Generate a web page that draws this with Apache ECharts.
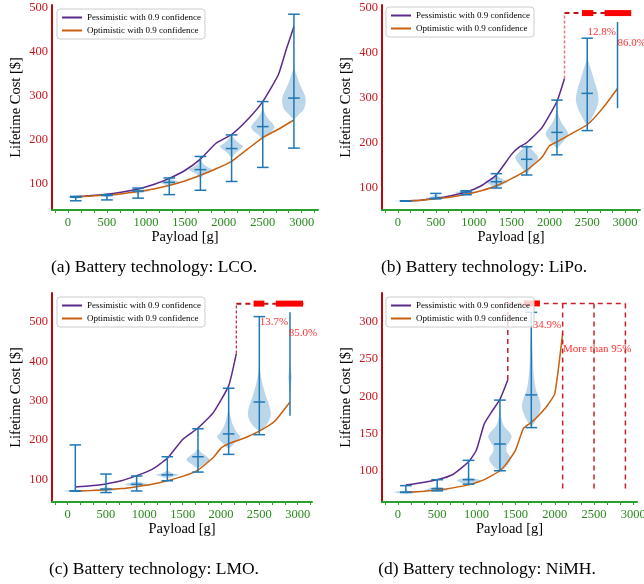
<!DOCTYPE html>
<html>
<head>
<meta charset="utf-8">
<script src="https://cdn.jsdelivr.net/npm/echarts@6/dist/echarts.min.js"></script>
<style>
  html, body { margin: 0; padding: 0; background: #fff; }
  #chart { width: 644px; height: 584px; }
</style>
</head>
<body>
<div id="chart"></div>
<script>
// payload positions of the violins [g]
const positions = [100, 500, 900, 1300, 1700, 2100, 2500, 2900];
const xTickLabels = [0, 500, 1000, 1500, 2000, 2500, 3000];
const yTicks = [100, 200, 300, 400, 500];
const yTicksNiMH = [100, 150, 200, 250, 300];
const pessName = 'Pessimistic with 0.9 confidence';
const optName = 'Optimistic with 0.9 confidence';
const captions = [
  '(a) Battery technology: LCO.',
  '(b) Battery technology: LiPo.',
  '(c) Battery technology: LMO.',
  '(d) Battery technology: NiMH.'
];

// (a) LCO
const lcoMin = [61, 63, 67, 75, 85, 105, 137, 181];
const lcoMed = [69, 73, 83, 103, 132, 180, 230, 295];
const lcoMax = [71, 75, 90, 113, 162, 211, 287, 486];
// violin outlines: [cost, relative half width]
const lcoShapes = [
  [[66, 0], [69, 0.6], [70, 1], [71, 0.5], [73, 0]],
  [[70, 0], [73, 0.6], [74, 1], [76, 0.4], [79, 0]],
  [[77, 0], [81, 0.6], [83, 1], [86, 0.5], [90, 0]],
  [[95, 0], [100, 0.6], [103, 1], [107, 0.5], [112, 0]],
  [[112, 0], [122, 0.35], [128, 0.8], [132, 1], [137, 0.7], [145, 0.25], [155, 0]],
  [[160, 0], [170, 0.35], [179, 0.8], [185, 1], [191, 0.7], [200, 0.3], [210, 0]],
  [[203, 0], [212, 0.4], [220, 0.8], [229, 1], [238, 0.8], [250, 0.4], [262, 0.15], [275, 0]],
  [[248, 0], [258, 0.45], [270, 0.85], [285, 1], [300, 0.95], [315, 0.7], [330, 0.45], [345, 0.25], [360, 0.05], [368, 0]]
];
const lcoPessX = [100, 300, 500, 700, 900, 1100, 1300, 1500, 1700, 1900, 2100, 2300, 2500, 2700, 2800, 2900];
const lcoPessY = [70, 73, 76, 81, 88, 98, 112, 130, 156, 192, 212, 245, 287, 348, 405, 458];
const lcoOptX = [100, 300, 500, 700, 900, 1100, 1300, 1500, 1700, 1900, 2100, 2300, 2500, 2700, 2900];
const lcoOptY = [70, 72, 74, 77, 82, 88, 96, 106, 119, 134, 151, 178, 205, 224, 245];

// (b) LiPo
const lipoMin = [70, 75, 84, 99, 128, 173, 227, 277];
const lipoMed = [70, 76, 90, 113, 163, 223, 310, null];
const lipoMax = [70, 87, 93, 131, 191, 295, 433, 469];
const lipoShapes = [
  [[69, 0], [70, 1], [71, 0]],
  [[74, 0], [76, 1], [79, 0.5], [84, 0]],
  [[84, 0], [88, 0.8], [90, 1], [92, 0.5], [94, 0]],
  [[100, 0], [107, 0.6], [113, 1], [118, 0.6], [126, 0]],
  [[130, 0], [140, 0.3], [150, 0.6], [160, 0.9], [168, 1], [178, 0.7], [188, 0.3], [196, 0]],
  [[188, 0], [198, 0.4], [210, 0.8], [220, 1], [230, 0.8], [245, 0.4], [260, 0.15], [275, 0]],
  [[240, 0], [255, 0.4], [275, 0.8], [295, 1], [315, 0.9], [340, 0.6], [365, 0.3], [385, 0]],
  []
];
const lipoPessX = [100, 300, 500, 700, 900, 1100, 1300, 1500, 1600, 1700, 1900, 2100, 2200];
const lipoPessY = [70, 72, 76, 82, 90, 104, 128, 174, 190, 200, 233, 292, 343];
const lipoOptX = [100, 300, 500, 700, 900, 1100, 1300, 1500, 1700, 1900, 2000, 2100, 2300, 2500, 2700, 2900];
const lipoOptY = [70, 72, 75, 79, 85, 93, 104, 120, 139, 167, 193, 202, 221, 240, 276, 321];
const lipoDrop = [[2200, 343, 2200, 489]];
const lipoTop = [[2200, 489, 3080, 489]];
const lipoBars = [[2430, 2580, 489], [2730, 3080, 489]];
const lipoNotes = [['12.8%', 2505, 447], ['86.0%', 2900, 423]];

// (c) LMO
const lmoMin = [71, 67, 71, 97, 119, 164, 214, 262];
const lmoMed = [71, 76, 88, 112, 158, 216, 297, null];
const lmoMax = [188, 114, 109, 158, 229, 332, 514, 525];
const lmoShapes = [
  [[68, 0], [71, 1], [74, 0]],
  [[70, 0], [74, 1], [78, 0.4], [82, 0]],
  [[83, 0], [87, 1], [91, 0.6], [95, 0]],
  [[104, 0], [109, 0.7], [112, 1], [116, 0.5], [122, 0]],
  [[130, 0], [140, 0.6], [150, 1], [158, 0.8], [168, 0.3], [178, 0]],
  [[180, 0], [195, 0.6], [208, 1], [220, 0.7], [240, 0.35], [260, 0.15], [278, 0]],
  [[225, 0], [235, 0.5], [250, 0.85], [265, 1], [285, 0.9], [310, 0.6], [340, 0.3], [370, 0.1], [390, 0]],
  [[320, 0], [340, 0.08], [360, 0.14], [380, 0.07], [400, 0]]
];
const lmoPessX = [100, 300, 500, 700, 900, 1100, 1300, 1500, 1700, 1900, 2100, 2200];
const lmoPessY = [81, 84, 89, 97, 110, 126, 154, 202, 231, 270, 338, 420];
const lmoOptX = [100, 300, 500, 700, 900, 1100, 1300, 1500, 1700, 1900, 2000, 2100, 2300, 2500, 2700, 2900];
const lmoOptY = [71, 72, 74, 77, 82, 88, 97, 108, 124, 156, 180, 191, 205, 223, 248, 297];
const lmoDrop = [[2200, 420, 2200, 547]];
const lmoTop = [[2200, 547, 3075, 547]];
const lmoBars = [[2425, 2565, 547], [2715, 3070, 547]];
const lmoNotes = [['13.7%', 2505, 500], ['85.0%', 2885, 473]];

// (d) NiMH
const nimhMin = [71, 73, 82, 100, 158];
const nimhMed = [71, 76, 88, 136, 202];
const nimhMax = [80, 88, 114, 195, 313];
const nimhShapes = [
  [[69, 0], [71, 1], [73, 0]],
  [[72, 0], [74, 1], [77, 0.5], [79, 0]],
  [[82, 0], [85, 0.8], [87, 1], [89, 0.7], [91, 0]],
  [[100, 0], [105, 0.5], [112, 0.85], [118, 0.9], [125, 0.6], [132, 0.55], [140, 0.85], [146, 1], [152, 0.8], [160, 0.35], [170, 0.12], [182, 0]],
  [[160, 0], [170, 0.45], [180, 0.72], [188, 0.8], [198, 0.65], [210, 0.38], [230, 0.2], [255, 0.12], [280, 0.06], [300, 0]]
];
const nimhPessX = [100, 300, 500, 700, 900, 1000, 1100, 1200, 1300, 1400];
const nimhPessY = [81, 84, 88, 95, 112, 128, 163, 180, 196, 222];
const nimhOptX = [100, 300, 500, 700, 900, 1100, 1300, 1400, 1500, 1600, 1700, 1800, 1900, 2000, 2100];
const nimhOptY = [71, 72, 74, 77, 81, 88, 100, 112, 128, 157, 165, 175, 187, 204, 285];
const nimhDrop = [[1400, 222, 1400, 325], [1400, 325, 2900, 325],
  [2100, 325, 2100, 72], [2500, 325, 2500, 72], [2900, 325, 2900, 72]];
const nimhBars = [[1605, 1810, 325]];
const nimhNotes = [['34.9%', 1720, 296], ['More than 95%', 2105, 264]];

const SERIF = '"Liberation Serif", "DejaVu Serif", serif';
const BLUE = '#1f77b4';
const PURPLE = '#5b2a8c';
const ORANGE = '#c8600f';
const RED_AXIS = '#b80a0a';
const RED_TXT = '#c8161e';
const GREEN_AXIS = '#2ca02c';
const GREEN_TXT = '#2a8a1e';
const NOTE_RED = '#ff3333';
const HALF = 150;   // violin half width in payload units
const CAP = 75;     // cap half length

const xMinor = [];
for (let v = -500 / 3; v < 3300; v += 500 / 3) xMinor.push(Math.round(v));

const grids = [
  { left: 52, top: 5, width: 266, height: 205 },
  { left: 382, top: 5, width: 258, height: 205 },
  { left: 52, top: 293, width: 260, height: 209 },
  { left: 382, top: 293, width: 255, height: 209 }
];
const xRanges = [[-205, 3209], [-211, 3197], [-204, 3187], [-204, 3048]];
const yRanges = [[40, 507], [50, 507], [43, 574], [58, 339]];
const legendPos = [[57, 9], [386, 7], [57, 297], [386, 297]];
const captionPos = [[154, 267], [484, 267], [154, 569], [487, 569]];

function violins(k, mins, meds, maxs, shapes) {
  const data = mins.map((m, i) => [positions[i], m, meds[i] == null ? '-' : meds[i], maxs[i]]);
  return [{
    type: 'custom', xAxisIndex: k, yAxisIndex: k, z: 1, silent: true,
    data: data,
    renderItem(params, api) {
      const x = api.value(0);
      const shape = shapes[params.dataIndex] || [];
      if (!shape.length) return null;
      const right = shape.map(s => api.coord([x + s[1] * HALF, s[0]]));
      const left = shape.slice(1, -1).reverse().map(s => api.coord([x - s[1] * HALF, s[0]]));
      return {
        type: 'polygon',
        shape: { points: right.concat(left), smooth: 0.3 },
        style: { fill: 'rgba(31,119,180,0.3)' }
      };
    }
  }, {
    type: 'custom', xAxisIndex: k, yAxisIndex: k, z: 4, silent: true,
    data: data,
    renderItem(params, api) {
      const x = api.value(0);
      const lo = api.coord([x, api.value(1)]);
      const hi = api.coord([x, api.value(3)]);
      const st = { stroke: BLUE, lineWidth: 1.5 };
      const kids = [{ type: 'line', shape: { x1: lo[0], y1: lo[1], x2: hi[0], y2: hi[1] }, style: st }];
      const med = api.value(2);
      if (!isNaN(med)) {
        [api.value(1), med, api.value(3)].forEach(v => {
          const a = api.coord([x - CAP, v]);
          const b = api.coord([x + CAP, v]);
          kids.push({ type: 'line', shape: { x1: a[0], y1: a[1], x2: b[0], y2: b[1] }, style: st });
        });
      }
      return { type: 'group', children: kids };
    }
  }];
}

function curves(k, px, py, ox, oy) {
  return [
    { name: pessName, type: 'line', xAxisIndex: k, yAxisIndex: k, z: 3, symbol: 'none', smooth: 0.15,
      lineStyle: { color: PURPLE, width: 1.5 }, itemStyle: { color: PURPLE },
      data: px.map((x, i) => [x, py[i]]) },
    { name: optName, type: 'line', xAxisIndex: k, yAxisIndex: k, z: 3, symbol: 'none', smooth: 0.15,
      lineStyle: { color: ORANGE, width: 1.5 }, itemStyle: { color: ORANGE },
      data: ox.map((x, i) => [x, oy[i]]) }
  ];
}

function segments(k, segs, color, width, dash) {
  return {
    type: 'custom', xAxisIndex: k, yAxisIndex: k, z: 5, silent: true,
    data: segs,
    renderItem(params, api) {
      const a = api.coord([api.value(0), api.value(1)]);
      const b = api.coord([api.value(2), api.value(3)]);
      return { type: 'line', shape: { x1: a[0], y1: a[1], x2: b[0], y2: b[1] },
        style: { stroke: color, lineWidth: width, lineDash: dash } };
    }
  };
}

function bars(k, list) {
  return {
    type: 'custom', xAxisIndex: k, yAxisIndex: k, z: 6, silent: true,
    data: list,
    renderItem(params, api) {
      const a = api.coord([api.value(0), api.value(2)]);
      const b = api.coord([api.value(1), api.value(2)]);
      return { type: 'rect', shape: { x: a[0], y: a[1] - 3, width: b[0] - a[0], height: 6 },
        style: { fill: '#ff0000' } };
    }
  };
}

function notes(k, list) {
  return {
    type: 'custom', xAxisIndex: k, yAxisIndex: k, z: 6, silent: true,
    data: list.map(n => [n[1], n[2]]),
    renderItem(params, api) {
      const p = api.coord([api.value(0), api.value(1)]);
      return { type: 'text', x: p[0], y: p[1],
        style: { text: list[params.dataIndex][0], fill: NOTE_RED, font: '11px ' + SERIF,
          textAlign: 'left', textVerticalAlign: 'middle' } };
    }
  };
}

const xAxes = grids.map((g, k) => ({
  type: 'value', gridIndex: k, min: xRanges[k][0], max: xRanges[k][1],
  name: 'Payload [g]', nameLocation: 'middle', nameGap: 20,
  nameTextStyle: { fontFamily: SERIF, fontSize: 14.5, color: '#000' },
  axisLine: { show: true, onZero: false, lineStyle: { color: GREEN_AXIS, width: 2 } },
  axisTick: { show: true, customValues: xMinor.filter(v => v >= xRanges[k][0] && v <= xRanges[k][1]),
    length: 3, lineStyle: { color: GREEN_AXIS, width: 1 } },
  axisLabel: { customValues: xTickLabels, formatter: v => String(v), color: GREEN_TXT,
    fontFamily: SERIF, fontSize: 12.5, margin: 6 },
  splitLine: { show: false }
}));

const yAxes = grids.map((g, k) => ({
  type: 'value', gridIndex: k, min: yRanges[k][0], max: yRanges[k][1],
  name: 'Lifetime Cost [$]', nameLocation: 'middle', nameGap: 28,
  nameTextStyle: { fontFamily: SERIF, fontSize: 14.5, color: '#000' },
  axisLine: { show: true, onZero: false, lineStyle: { color: RED_AXIS, width: 2 } },
  axisTick: { show: false },
  axisLabel: { customValues: k === 3 ? yTicksNiMH : yTicks, formatter: v => String(v), color: RED_TXT,
    fontFamily: SERIF, fontSize: 12.5, margin: 4 },
  splitLine: { show: false }
}));

const series = [].concat(
  violins(0, lcoMin, lcoMed, lcoMax, lcoShapes),
  curves(0, lcoPessX, lcoPessY, lcoOptX, lcoOptY),
  violins(1, lipoMin, lipoMed, lipoMax, lipoShapes),
  curves(1, lipoPessX, lipoPessY, lipoOptX, lipoOptY),
  [segments(1, lipoDrop, '#e07b7b', 1.5, [3, 2]),
   segments(1, lipoTop, '#b5161b', 2, [5, 4]),
   bars(1, lipoBars), notes(1, lipoNotes)],
  violins(2, lmoMin, lmoMed, lmoMax, lmoShapes),
  curves(2, lmoPessX, lmoPessY, lmoOptX, lmoOptY),
  [segments(2, lmoDrop, '#c0282d', 1.2, [3, 2]),
   segments(2, lmoTop, '#b5161b', 2, [5, 4]),
   bars(2, lmoBars), notes(2, lmoNotes)],
  violins(3, nimhMin, nimhMed, nimhMax, nimhShapes),
  curves(3, nimhPessX, nimhPessY, nimhOptX, nimhOptY),
  [segments(3, nimhDrop, '#c8202a', 1.5, [5, 4]),
   bars(3, nimhBars), notes(3, nimhNotes)]
);

const chart = echarts.init(document.getElementById('chart'), null, { renderer: 'canvas' });
chart.setOption({
  animation: false,
  backgroundColor: '#fff',
  grid: grids.map(g => Object.assign({ containLabel: false, outerBoundsMode: 'none' }, g)),
  xAxis: xAxes,
  yAxis: yAxes,
  legend: legendPos.map(p => ({
    left: p[0], top: p[1], orient: 'vertical',
    data: [pessName, optName],
    itemWidth: 20, itemHeight: 9, itemGap: 4,
    itemStyle: { opacity: 0 },
    padding: [4, 4, 4, 4],
    backgroundColor: 'rgba(255,255,255,0.8)', borderColor: '#cccccc', borderWidth: 1, borderRadius: 3,
    textStyle: { fontFamily: SERIF, fontSize: 9, color: '#000' },
    selectedMode: false, z: 10
  })),
  graphic: captions.map((c, k) => ({
    type: 'text', x: captionPos[k][0], y: captionPos[k][1],
    style: { text: c, font: '17.5px ' + SERIF, fill: '#000', textAlign: 'center', textVerticalAlign: 'middle' }
  })),
  series: series
});
</script>
</body>
</html>
